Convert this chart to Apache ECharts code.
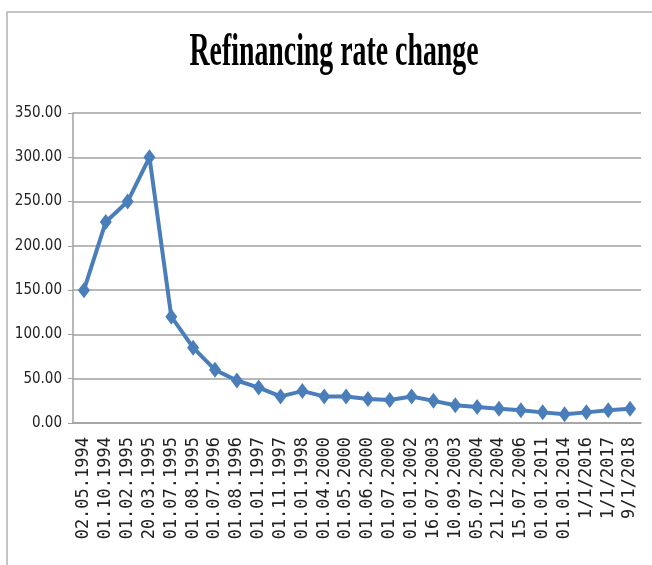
<!DOCTYPE html>
<html>
<head>
<meta charset="utf-8">
<script src="https://cdn.jsdelivr.net/npm/echarts@6/dist/echarts.min.js"></script>
<style>
html,body{margin:0;padding:0;background:#fff;}
#chart{width:652px;height:565px;}
</style>
</head>
<body>
<div id="chart"></div>
<script>
const titleText = "Refinancing rate change";
const categories = ["02.05.1994","01.10.1994","01.02.1995","20.03.1995","01.07.1995","01.08.1995","01.07.1996","01.08.1996","01.01.1997","01.11.1997","01.01.1998","01.04.2000","01.05.2000","01.06.2000","01.07.2000","01.01.2002","16.07.2003","10.09.2003","05.07.2004","21.12.2004","15.07.2006","01.01.2011","01.01.2014","1/1/2016","1/1/2017","9/1/2018"];
const rates = [150,227,250,300,120,85,60,48,40,30,36,30,30,27,26,30,25,20,18,16,14.5,12,10,12,14.5,16];
const yTicks = {min:0, max:350, interval:50};

const chart = echarts.init(document.getElementById('chart'), null, {renderer:'canvas'});
chart.setOption({
  animation:false,
  backgroundColor:'#ffffff',
  graphic:[
    {type:'rect', shape:{x:7,y:12,width:700,height:600}, style:{fill:'none', stroke:'#b3b3b3', lineWidth:1.5}, z:0},
    {type:'text', x:334, y:53, scaleX:0.605, scaleY:1, originX:0, originY:0,
     style:{text:titleText, font:'bold 46px "Liberation Serif", serif', fill:'#000', align:'center', verticalAlign:'middle'}}
  ],
  grid:{left:73, right:11, top:113, bottom:142, containLabel:false},
  xAxis:{
    type:'category', data:categories, boundaryGap:true,
    axisLine:{show:true, lineStyle:{color:'#a0a0a0', width:1.5}},
    axisTick:{show:false},
    axisLabel:{interval:0, rotate:90, margin:14, fontSize:17, fontFamily:'"DejaVu Sans Mono", monospace', color:'#222'}
  },
  yAxis:{
    type:'value', min:yTicks.min, max:yTicks.max, interval:yTicks.interval,
    axisLine:{show:true, lineStyle:{color:'#a0a0a0', width:1.5}},
    axisTick:{show:true, length:5, lineStyle:{color:'#a0a0a0'}},
    splitLine:{show:true, lineStyle:{color:'#a0a0a0', width:1.5}},
    axisLabel:{formatter:v=>v.toFixed(2), margin:11, fontSize:15, fontFamily:'"DejaVu Sans Condensed", sans-serif', color:'#222'}
  },
  series:[{
    type:'line', data:rates,
    symbol:'diamond', symbolSize:[12,16],
    lineStyle:{color:'#4a7ebb', width:4},
    itemStyle:{color:'#4a7ebb'}
  }]
});
</script>
</body>
</html>
